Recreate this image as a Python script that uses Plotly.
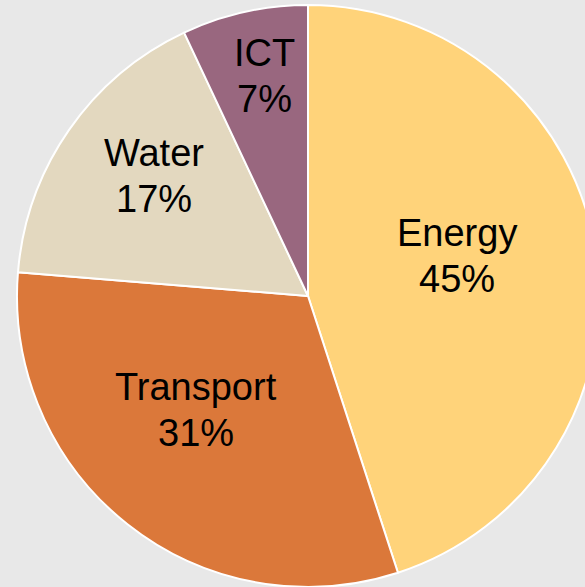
import math
import plotly.graph_objects as go

categories = ["Energy", "Transport", "Water", "ICT"]
shares = [45.0, 31.3, 16.7, 7.0]
colors = ["#FFD37A", "#DB783A", "#E3D8BF", "#99677F"]

# label placement (angle offset from slice middle in degrees, radius fraction)
label_place = [(-6, 0.53), (6.2, 0.55), (3.3, 0.67), (1.3, 0.77)]

W, H = 616, 587
top_px = 5
r_px = (H - top_px) / 2
cx, cy = W / 2, top_px + r_px

fig = go.Figure(go.Pie(
    labels=categories,
    values=shares,
    sort=False,
    direction="clockwise",
    rotation=0,
    marker=dict(colors=colors, line=dict(color="white", width=2)),
    textinfo="none",
    hoverinfo="skip",
    domain=dict(x=[0, 1], y=[0, (H - top_px) / H]),
    showlegend=False,
))

total = sum(shares)
cum = 0
annotations = []
for cat, v, (da, rf) in zip(categories, shares, label_place):
    mid = (cum + v / 2) / total * 360 + da
    cum += v
    px = cx + rf * r_px * math.sin(math.radians(mid))
    py = cy - rf * r_px * math.cos(math.radians(mid))
    for txt, dy in ((cat, -23), (f"{round(v / total * 100)}%", 23)):
        annotations.append(dict(
            x=px / W, y=1 - (py + dy) / H, xref="paper", yref="paper",
            text=txt, showarrow=False, xanchor="center", yanchor="middle",
            font=dict(family="Liberation Sans, Arial, sans-serif", size=38, color="black"),
        ))

fig.update_layout(
    width=W, height=H,
    margin=dict(l=0, r=0, t=0, b=0),
    paper_bgcolor="#E8E8E8",
    plot_bgcolor="#E8E8E8",
    annotations=annotations,
)

fig.write_html(
    "out.html",
    config={"displayModeBar": False},
    post_script="document.body.style.margin='0';document.body.style.overflow='hidden';document.documentElement.style.overflow='hidden';",
)
